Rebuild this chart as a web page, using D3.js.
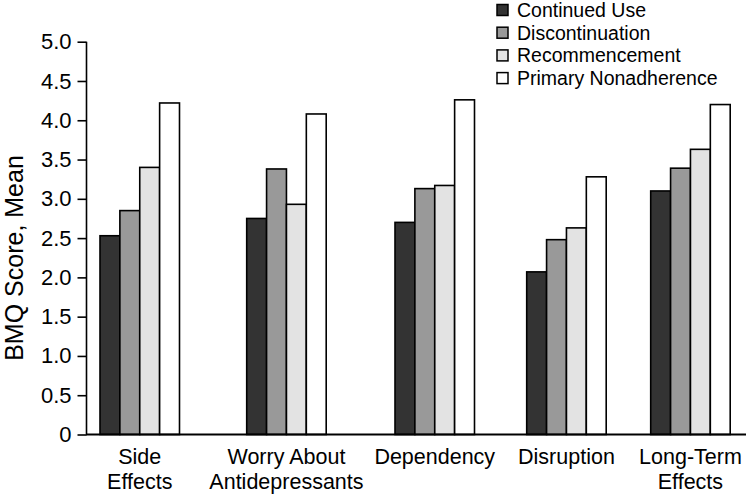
<!DOCTYPE html>
<html>
<head>
<meta charset="utf-8">
<script src="https://cdn.jsdelivr.net/npm/d3@7"></script>
<style>
  html, body { margin: 0; padding: 0; background: #fff; }
  svg { display: block; font-family: "Liberation Sans", Arial, Helvetica, sans-serif; }
</style>
</head>
<body>
<svg id="chart" width="746" height="495"></svg>
<script>
const categories = [["Side", "Effects"], ["Worry About", "Antidepressants"], ["Dependency"], ["Disruption"], ["Long-Term", "Effects"]];
const seriesNames = ["Continued Use", "Discontinuation", "Recommencement", "Primary Nonadherence"];
const continuedUse        = [2.53, 2.75, 2.70, 2.07, 3.10];
const discontinuation     = [2.85, 3.38, 3.13, 2.48, 3.39];
const recommencement      = [3.40, 2.93, 3.17, 2.63, 3.63];
const primaryNonadherence = [4.22, 4.08, 4.26, 3.28, 4.20];
const yTicks = [0, 0.5, 1.0, 1.5, 2.0, 2.5, 3.0, 3.5, 4.0, 4.5, 5.0];

const seriesValues = [continuedUse, discontinuation, recommencement, primaryNonadherence];
const colors = ["#333333", "#999999", "#e3e3e3", "#ffffff"];
const catKeys = categories.map(c => c.join(" "));

const svg = d3.select("#chart");
const y = d3.scaleLinear().domain([0, 5]).range([434.5, 41.7]);
const xGroup = d3.scaleOrdinal().domain(catKeys).range([100, 246.7, 395, 526.7, 650.7]);
const xInner = d3.scaleBand().domain(seriesNames).range([0, 79.5]).padding(0);

// bars
const groups = svg.append("g").selectAll("g")
  .data(catKeys)
  .join("g")
  .attr("transform", d => `translate(${xGroup(d)},0)`);

groups.selectAll("rect")
  .data((d, i) => seriesNames.map((s, j) => ({ s, j, v: seriesValues[j][i] })))
  .join("rect")
  .attr("x", d => xInner(d.s))
  .attr("width", xInner.bandwidth())
  .attr("y", d => y(d.v))
  .attr("height", d => y(0) - y(d.v))
  .attr("fill", d => colors[d.j])
  .attr("stroke", "#000")
  .attr("stroke-width", 1.6);

// y axis
const yAxis = d3.axisLeft(y).tickValues(yTicks)
  .tickFormat(d => d === 0 ? "0" : d3.format(".1f")(d))
  .tickSize(9).tickPadding(6);
const gy = svg.append("g").attr("transform", "translate(86.5,0)").call(yAxis);
gy.select(".domain").attr("stroke", "#000").attr("stroke-width", 1.6).attr("d", `M-0,${y(5)}H0V${y(0)}`);
gy.selectAll(".tick line").attr("stroke", "#000").attr("stroke-width", 1.6);
gy.selectAll(".tick text").attr("fill", "#000").style("font-size", "22px")
  .style("font-family", "'Liberation Sans', Arial, sans-serif");

// x axis line
svg.append("line")
  .attr("x1", 86).attr("x2", 746)
  .attr("y1", y(0)).attr("y2", y(0))
  .attr("stroke", "#000").attr("stroke-width", 1.8);

// x labels
const xl = svg.append("g").selectAll("text")
  .data(categories)
  .join("text")
  .attr("x", (d, i) => xGroup(catKeys[i]) + 79.5 / 2)
  .attr("y", 464)
  .attr("text-anchor", "middle")
  .style("font-size", "21.5px")
  .attr("fill", "#000");
xl.selectAll("tspan")
  .data(d => d)
  .join("tspan")
  .attr("x", function () { return this.parentNode.getAttribute("x"); })
  .attr("dy", (d, i) => i === 0 ? 0 : 24.5)
  .text(d => d);

// y title
svg.append("text")
  .attr("transform", "translate(23,258) rotate(-90)")
  .attr("text-anchor", "middle")
  .style("font-size", "25px")
  .attr("fill", "#000")
  .text("BMQ Score, Mean");

// legend
const legend = svg.append("g").selectAll("g")
  .data(seriesNames)
  .join("g")
  .attr("transform", (d, i) => `translate(497,${10 + i * 22.7})`);
legend.append("rect")
  .attr("x", 0).attr("y", -5.5).attr("width", 11).attr("height", 11)
  .attr("fill", (d, i) => colors[i]).attr("stroke", "#000").attr("stroke-width", 1.5);
legend.append("text")
  .attr("x", 20).attr("y", 0).attr("dy", "0.36em")
  .style("font-size", "19.5px").attr("fill", "#000")
  .text(d => d);
</script>
</body>
</html>
